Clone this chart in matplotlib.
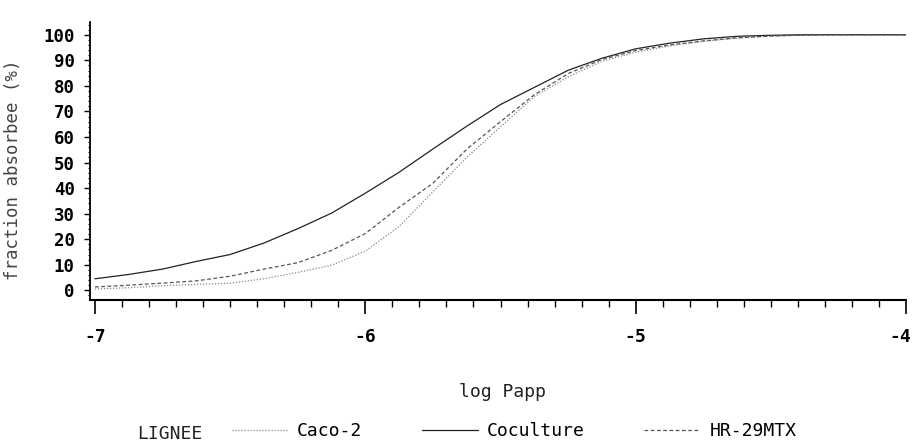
import matplotlib

matplotlib.use("Agg")
import matplotlib.pyplot as plt
from matplotlib.ticker import MultipleLocator
from matplotlib.transforms import ScaledTranslation

plt.rcParams["axes.unicode_minus"] = False
plt.rcParams["font.family"] = ["DejaVu Sans Mono"]

# log Papp grid
log_papp = [-7.0, -6.875, -6.75, -6.625, -6.5, -6.375, -6.25, -6.125, -6.0,
            -5.875, -5.75, -5.625, -5.5, -5.375, -5.25, -5.125, -5.0,
            -4.875, -4.75, -4.625, -4.5, -4.375, -4.25, -4.125, -4.0]

# fraction absorbee (%) per cell line
coculture = [4.5, 6.2, 8.3, 11.3, 14.0, 18.5, 24.1, 30.2, 38.0,
             46.2, 55.3, 64.2, 72.7, 79.4, 86.1, 90.8, 94.5,
             96.7, 98.4, 99.4, 99.8, 100.0, 100.0, 100.0, 100.0]
hr29mtx = [1.3, 2.0, 2.8, 3.7, 5.5, 8.3, 10.8, 15.6, 22.2,
           32.5, 41.9, 55.2, 66.0, 76.5, 84.8, 90.3, 93.8,
           96.0, 97.6, 98.8, 99.5, 99.9, 100.0, 100.0, 100.0]
caco2 = [0.5, 1.0, 1.8, 2.3, 2.8, 4.5, 7.0, 9.8, 15.3,
         25.0, 38.5, 52.0, 64.0, 75.8, 83.5, 89.6, 93.2,
         95.6, 97.4, 98.7, 99.5, 99.9, 100.0, 100.0, 100.0]

fig = plt.figure(figsize=(9.15, 4.46), dpi=100)
ax = fig.add_axes([90 / 915, 1 - 300 / 446, 816 / 915, 278 / 446])

l_caco, = ax.plot(log_papp, caco2, color="#888888", lw=0.9, ls=(0, (1, 1.4)))
l_cocu, = ax.plot(log_papp, coculture, color="#222222", lw=0.9, ls="-")
l_hr, = ax.plot(log_papp, hr29mtx, color="#555555", lw=0.9, ls=(0, (3, 2)))

ax.set_xlim(-7.0185, -4.0)
ax.set_ylim(-3.8, 105)
ax.spines["top"].set_visible(False)
ax.spines["right"].set_visible(False)
ax.spines["left"].set_linewidth(1.3)
ax.spines["bottom"].set_linewidth(1.5)

ax.set_xticks([-7, -6, -5, -4])
ax.xaxis.set_minor_locator(MultipleLocator(0.1))
ax.set_yticks(range(0, 101, 10))
ax.yaxis.set_minor_locator(MultipleLocator(2))

ax.tick_params(axis="x", which="major", direction="out", length=10, width=1.2,
               pad=10, labelsize=13)
ax.tick_params(axis="x", which="minor", direction="out", length=5, width=1.0)
ax.tick_params(axis="y", which="major", direction="out", length=4, width=1.0,
               pad=7, labelsize=12.5)
ax.tick_params(axis="y", which="minor", direction="out", length=1.5, width=0.8)
for lab in ax.get_xticklabels() + ax.get_yticklabels():
    lab.set_fontweight("bold")
# keep the last x label inside the figure edge
last = ax.get_xticklabels()[-1]
last.set_transform(last.get_transform() + ScaledTranslation(-6 / 100, 0, fig.dpi_scale_trans))

ax.set_xlabel("log Papp", fontsize=13, color="#222222")
ax.xaxis.set_label_coords(0.505, -0.30)
ax.set_ylabel("fraction absorbee (%)", fontsize=12.5, color="#444444")
ax.yaxis.set_label_coords(-0.083, 0.47)

fig.text(137 / 915, 1 - 434 / 446, "LIGNEE", fontsize=13, va="center",
         ha="left", color="#222222")
fig.legend([l_caco, l_cocu, l_hr], ["Caco-2", "Coculture", "HR-29MTX"],
           loc="center left", bbox_to_anchor=(232 / 915, 1 - 431 / 446),
           ncol=3, frameon=False, fontsize=13, handlelength=3.1,
           handletextpad=0.5, columnspacing=3.3, borderpad=0, borderaxespad=0)

fig.savefig("out.png", dpi=100)
